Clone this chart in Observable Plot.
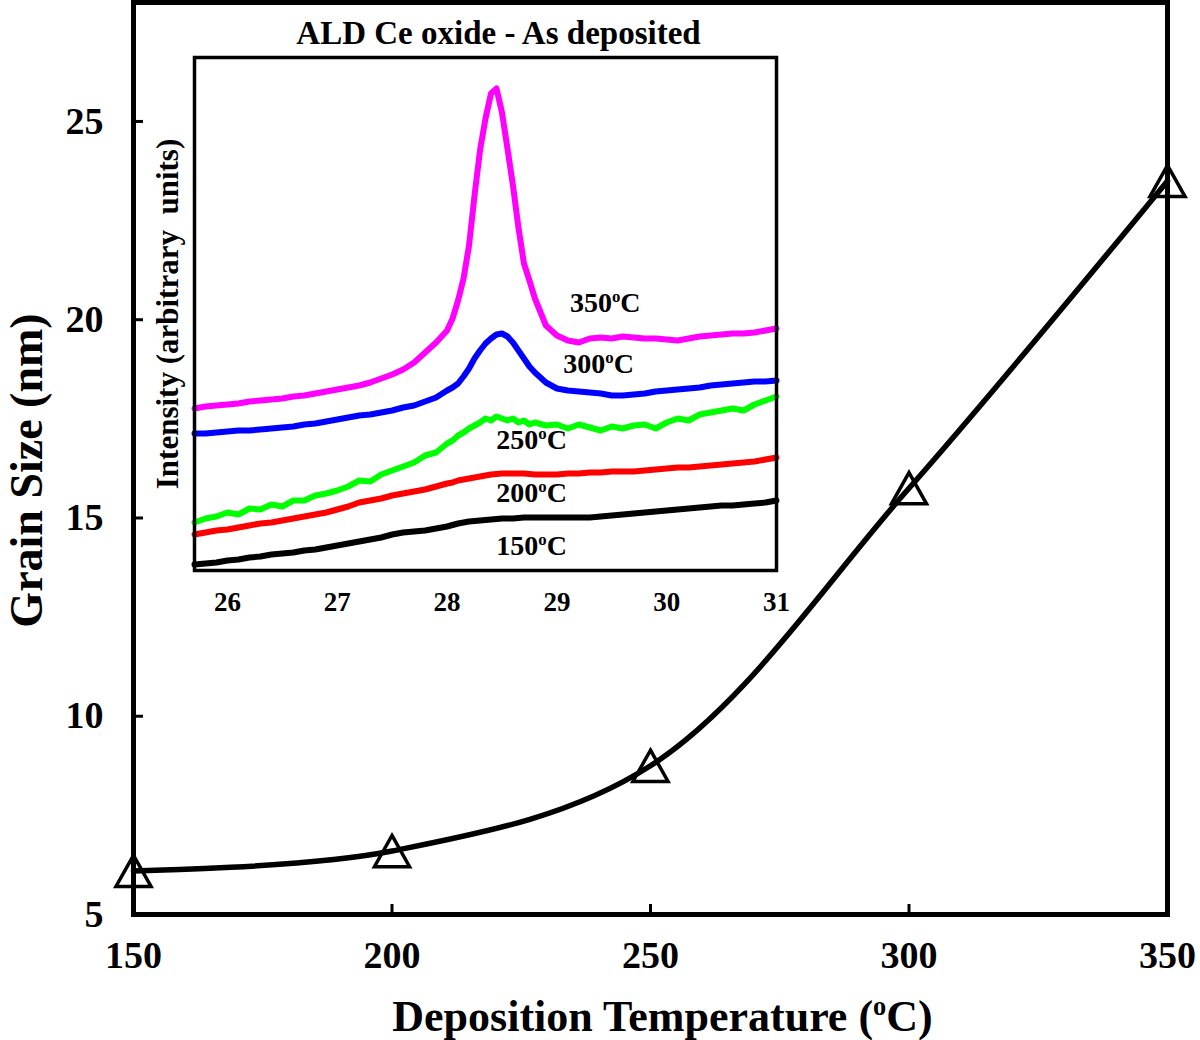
<!DOCTYPE html>
<html><head><meta charset="utf-8">
<script src="https://cdn.jsdelivr.net/npm/d3@7"></script>
<script src="https://cdn.jsdelivr.net/npm/@observablehq/plot@0.6"></script>
<style>
html,body{margin:0;padding:0;background:#fff;}
#wrap{position:relative;width:1200px;height:1040px;}
#wrap svg{position:absolute;}
</style></head><body><div id="wrap"></div>
<script>
// ---------- main chart data ----------
const temperatures = [150, 200, 250, 300, 350];
const grainSize = [6.1, 6.6, 8.75, 15.75, 23.5];
const xTicks = [150, 200, 250, 300, 350];
const yTicks = [5, 10, 15, 20, 25];
const xTitle = "Deposition Temperature (oC)";
const yTitle = "Grain Size (nm)";

// ---------- inset (XRD) data ----------
const insetTitle = "ALD Ce oxide - As deposited";
const insetYTitle = "Intensity (arbitrary  units)";
const insetXTicks = [26, 27, 28, 29, 30, 31];
const twoTheta = [25.7,25.8,25.9,26.0,26.1,26.2,26.3,26.4,26.5,26.6,26.7,26.8,26.9,27.0,27.1,27.2,27.3,27.4,27.5,27.6,27.7,27.8,27.9,28.0,
  28.05,28.1,28.15,28.2,28.25,28.3,28.35,28.4,28.45,28.5,28.55,28.6,28.65,28.7,28.75,28.8,
  28.9,29.0,29.1,29.2,29.3,29.4,29.5,29.6,29.7,29.8,29.9,30.0,30.1,30.2,30.3,30.4,30.5,30.6,30.7,30.8,30.9,31.0];
const i350 = [162,164,165,166,167,169,170,171,172,174,175,177,179,181,183,185,188,192,196,201,208,218,228,240,
  252,270,292,325,375,420,452,477,482,458,422,385,343,307,290,272,
  245,235,230,228,232,233,232,234,233,232,232,231,230,232,234,235,236,237,237,238,240,242];
const i300 = [137,137,138,139,140,140,141,142,143,144,146,147,149,151,153,155,156,158,160,163,165,169,173,180,
  183,187,194,202,212,220,227,232,236,237,234,228,220,212,204,198,
  188,182,180,179,178,177,175,175,176,177,179,180,181,182,183,185,186,187,188,189,189,190];
const i250 = [48,52,54,58,56,62,61,66,64,70,70,75,77,80,84,90,89,96,100,104,108,115,118,127,
  130,135,138,142,145,148,152,150,154,152,150,152,148,150,146,148,
  145,146,142,146,143,140,144,142,145,146,142,148,152,150,156,158,160,162,160,166,170,174];
const i200 = [36,38,40,41,43,45,47,48,50,52,54,56,58,61,64,68,70,72,75,77,79,81,84,87,
  88,90,91,92,93,94,95,96,96.5,97,97,97,97,97,96.5,96,
  96,96,97,97,98,98,99,99,99,100,101,102,103,103,104,105,106,107,108,109,111,113];
const i150 = [6,7,8,10,11,13,14,16,17,18,20,21,23,25,27,29,31,33,36,38,39,40,42,44,
  45.5,47,48,49,49.5,50,50.5,51,51.5,52,52,52,52.5,53,53,53,
  53,53,53,53,53,54,55,56,57,58,59,60,61,62,63,64,65,65,66,67,68,70];
const seriesNames = ["150oC", "200oC", "250oC", "300oC", "350oC"];
const seriesColors = ["#000000", "#ff0000", "#00ff00", "#0000ff", "#ff00ff"];
const labelTheta = [28.77, 28.77, 28.77, 29.38, 29.44];
const labelIntensity = [24, 77, 130, 206, 267];

// ---------- build ----------
const FONT = "'Liberation Serif', 'Times New Roman', serif";
const mainData = temperatures.map((t, i) => ({t, g: grainSize[i]}));

const W = 1200, H = 1040, mL = 133, mR = 33, mT = 2, mB = 126;
const frameW = W - mL - mR, frameH = H - mT - mB;

const triangle = {
  draw(context, size) {
    const r = Math.sqrt(size / Math.PI);
    const hw = 1.35 * r, hh = 1.2 * r;
    context.moveTo(0, -hh);
    context.lineTo(hw, hh);
    context.lineTo(-hw, hh);
    context.closePath();
  }
};

const main = Plot.plot({
  width: W, height: H,
  marginLeft: mL, marginRight: mR, marginTop: mT, marginBottom: mB,
  style: {fontFamily: FONT, fontWeight: "bold", background: "transparent", color: "black"},
  x: {domain: [150, 350]},
  y: {domain: [5, 28]},
  marks: [
    Plot.tickX(xTicks.slice(1, -1), {x: d => d, insetTop: frameH - 10, stroke: "black", strokeWidth: 3}),
    Plot.tickY(yTicks.slice(1), {y: d => d, insetRight: frameW - 10, stroke: "black", strokeWidth: 3}),
    Plot.axisX(xTicks, {tickSize: 0, tickPadding: 27, fontSize: 38, fontWeight: "bold", label: null}),
    Plot.axisY(yTicks, {tickSize: 0, tickPadding: 30, fontSize: 38, fontWeight: "bold", label: null}),
    Plot.line(mainData, {x: "t", y: "g", curve: "catmull-rom", stroke: "black", strokeWidth: 5.5}),
    Plot.dot(mainData, {x: "t", y: "g", symbol: triangle, r: 13, stroke: "black", strokeWidth: 3.5, fill: "none"}),
    Plot.frame({stroke: "black", strokeWidth: 5}),
    Plot.text([xTitle], {frameAnchor: "bottom", textAnchor: "middle", dx: 12, dy: 102, fontSize: 44, fontWeight: "bold", lineAnchor: "middle"}),
    Plot.text([yTitle], {frameAnchor: "left", textAnchor: "middle", rotate: -90, dx: -106, dy: 12, fontSize: 46, fontWeight: "bold", lineAnchor: "middle"})
  ]
});

const IW = 640, IH = 620;
const insetLines = [i150, i200, i250, i300, i350].map((arr, k) =>
  Plot.line(twoTheta.map((t, j) => ({t, v: arr[j]})), {x: "t", y: "v", stroke: seriesColors[k], strokeWidth: 6})
);
const labels = seriesNames.map((n, k) => ({n, t: labelTheta[k], v: labelIntensity[k]}));

const inset = Plot.plot({
  width: IW, height: IH,
  marginLeft: 44, marginRight: 14, marginTop: 57, marginBottom: 50,
  style: {fontFamily: FONT, fontWeight: "bold", background: "transparent", color: "black"},
  x: {domain: [25.7, 31.0]},
  y: {domain: [0, 513], axis: null},
  marks: [
    ...insetLines,
    Plot.frame({stroke: "black", strokeWidth: 3.5}),
    Plot.axisX(insetXTicks, {tickSize: 0, tickPadding: 21, fontSize: 27, fontWeight: "bold", label: null}),
    Plot.text(labels, {x: "t", y: "v", text: "n", fontSize: 28, fontWeight: "bold", fill: "black"}),
    Plot.text([insetTitle], {frameAnchor: "top", textAnchor: "middle", dx: 13, dy: -24, fontSize: 33, fontWeight: "bold", lineAnchor: "middle"}),
    Plot.text([insetYTitle], {frameAnchor: "left", textAnchor: "middle", rotate: -90, dx: -26, dy: 0, fontSize: 31, fontWeight: "bold", lineAnchor: "middle"})
  ]
});

const wrap = document.getElementById("wrap");
main.style.left = "0px"; main.style.top = "0px";
inset.style.left = "150px"; inset.style.top = "0px";
wrap.appendChild(main);
wrap.appendChild(inset);

// superscript "o" in degree labels
const NS = "http://www.w3.org/2000/svg";
for (const svg of [main, inset]) {
  svg.querySelectorAll("text").forEach(t => {
    if (t.children.length) return;
    const s = t.textContent;
    const i = s.indexOf("oC");
    if (i < 0) return;
    t.textContent = "";
    const a = document.createElementNS(NS, "tspan"); a.textContent = s.slice(0, i);
    const b = document.createElementNS(NS, "tspan"); b.textContent = "o";
    b.setAttribute("font-size", "60%"); b.setAttribute("dy", "-0.6em");
    const c = document.createElementNS(NS, "tspan"); c.textContent = s.slice(i + 1);
    c.setAttribute("dy", "0.36em");
    t.append(a, b, c);
  });
}
</script></body></html>
